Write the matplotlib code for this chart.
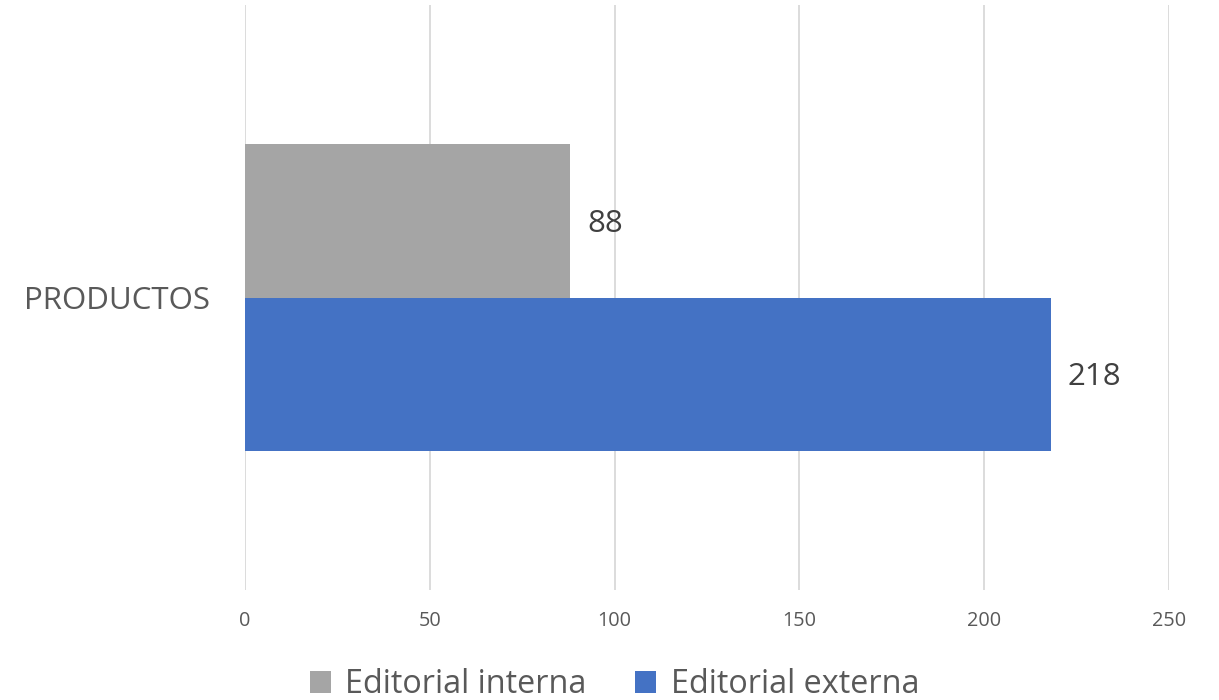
import matplotlib.pyplot as plt
import numpy as np

plt.rcParams['font.family'] = ['Open Sans', 'DejaVu Sans']

category = ["PRODUCTOS"]
series_names = ["Editorial interna", "Editorial externa"]
interna = [88]
externa = [218]
colors = ['#A5A5A5', '#4472C4']

fig = plt.figure(figsize=(12.19, 7.0), dpi=100)
ax = fig.add_axes([0.201, 0.157, 0.758, 0.836])

y = np.arange(len(category))
h = 0.523
b1 = ax.barh(y + h / 2, interna, height=h, color=colors[0], label=series_names[0], zorder=3)
b2 = ax.barh(y - h / 2, externa, height=h, color=colors[1], label=series_names[1], zorder=3)

for bars in (b1, b2):
    for r in bars:
        w = r.get_width()
        ax.annotate(str(int(w)), (w, r.get_y() + r.get_height() / 2),
                    xytext=(12, -2), textcoords='offset points',
                    va='center', ha='left', fontsize=22.5, color='#404040')

ax.set_xlim(0, 250)
ax.set_ylim(-1, 1)
ax.set_xticks(np.arange(0, 251, 50))
ax.set_yticks(y)
ax.set_yticklabels(category, fontsize=22.5, color='#595959')
ax.tick_params(axis='x', labelsize=14.3, colors='#595959', length=0, pad=15)
ax.tick_params(axis='y', length=0, pad=25)
ax.grid(axis='x', color='#D9D9D9', linewidth=1.3, zorder=0)
for s in ax.spines.values():
    s.set_visible(False)

fig.legend(handles=[b1, b2], labels=series_names, loc='center',
           bbox_to_anchor=(0.504, 0.022), ncol=2, frameon=False,
           fontsize=23.3, labelcolor='#595959', handlelength=0.65,
           handleheight=0.65, handletextpad=0.45, columnspacing=1.5)

fig.savefig('out.png', dpi=100)
